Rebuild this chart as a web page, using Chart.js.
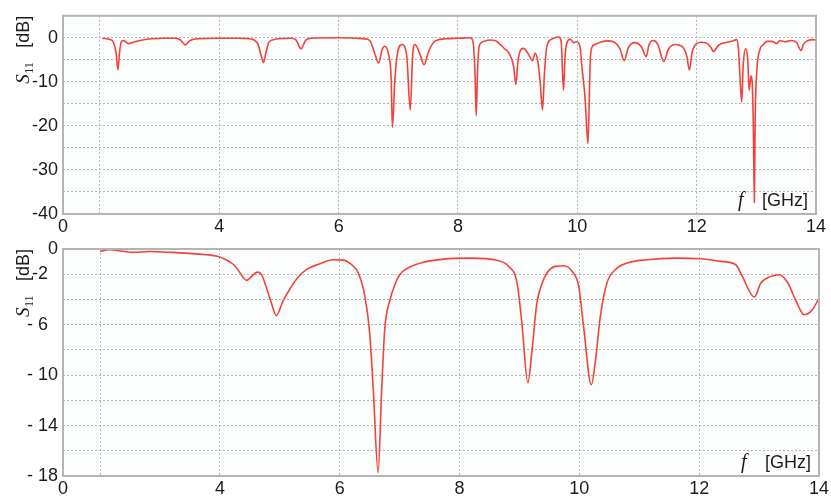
<!DOCTYPE html>
<html>
<head>
<meta charset="utf-8">
<script src="https://cdn.jsdelivr.net/npm/chart.js@4.4.1/dist/chart.umd.min.js"></script>
<style>
  html, body { margin: 0; padding: 0; background: #ffffff; }
  #wrap { position: relative; width: 831px; height: 501px; }
  canvas { position: absolute; left: 0; top: 0; }
</style>
</head>
<body>
<div id="wrap">
  <canvas id="top" width="831" height="501"></canvas>
  <canvas id="bottom" width="831" height="501"></canvas>
</div>
<script>
// ---------- DATA ----------
// Upper panel: measured S11 [dB] vs frequency [GHz]
const topFreq = [2.04,2.17,2.22,2.27,2.30,2.33,2.36,2.39,2.43,2.48,2.56,2.64,2.76,2.88,3.05,3.26,3.35,3.43,3.51,3.68,4.02,4.3,4.5,4.58,4.65,4.70,4.74,4.78,4.83,4.92,5.0,5.2,5.28,5.37,5.45,5.55,6.0,6.3,6.47,6.53,6.61,6.67,6.73,6.77,6.84,6.88,6.90,6.94,6.98,7.06,7.14,7.20,7.24,7.28,7.37,7.43,7.51,7.62,7.79,8.0,8.2,8.233,8.26,8.288,8.305,8.327,8.355,8.40,8.456,8.54,8.623,8.707,8.79,8.846,8.93,8.97,9.003,9.042,9.097,9.18,9.248,9.293,9.33,9.377,9.416,9.45,9.49,9.573,9.684,9.729,9.767,9.796,9.834,9.88,9.935,9.99,10.047,10.075,10.13,10.177,10.198,10.215,10.243,10.298,10.382,10.52,10.633,10.717,10.784,10.856,10.968,11.08,11.153,11.203,11.275,11.349,11.449,11.526,11.638,11.75,11.834,11.878,11.928,12.0,12.07,12.15,12.233,12.28,12.364,12.476,12.588,12.672,12.70,12.725,12.755,12.78,12.82,12.855,12.88,12.91,12.93,12.95,12.967,12.98,13.007,13.062,13.12,13.175,13.26,13.34,13.396,13.48,13.59,13.677,13.75,13.788,13.87,13.955,14.0];
const topS11 = [-0.1,-0.4,-0.9,-3.5,-7.3,-3.0,-0.8,-0.6,-0.9,-1.3,-1.0,-0.7,-0.4,-0.2,-0.1,-0.1,-0.5,-1.6,-0.6,-0.2,-0.1,-0.1,-0.2,-0.5,-1.5,-4.0,-5.6,-3.5,-1.0,-0.4,-0.2,-0.1,-0.4,-2.5,-0.5,-0.1,0.0,-0.1,-0.3,-0.8,-3.8,-5.7,-2.6,-1.9,-4.0,-9.3,-20.3,-10.0,-4.0,-1.5,-4.0,-16.4,-4.0,-1.5,-4.0,-6.1,-3.0,-0.7,-0.2,-0.1,0.0,-0.2,-1.8,-9.3,-17.7,-7.8,-1.9,-1.0,-0.7,-0.5,-0.6,-1.5,-2.6,-3.3,-6.3,-10.6,-5.6,-3.0,-2.4,-3.7,-5.2,-3.5,-4.8,-10.0,-16.4,-7.8,-1.9,-0.3,0.2,-0.8,-11.9,-4.0,-0.8,-0.3,-1.1,-0.9,-2.2,-6.3,-13.8,-24.0,-15.2,-5.6,-2.2,-1.5,-1.0,-0.7,-1.1,-2.6,-5.2,-2.2,-1.1,-2.2,-4.3,-1.5,-0.6,-1.5,-5.4,-2.6,-1.5,-1.9,-4.1,-7.3,-3.0,-1.3,-1.0,-1.1,-2.0,-3.1,-1.7,-1.1,-0.8,-0.4,-2.6,-8.6,-14.6,-6.3,-2.5,-4.8,-11.9,-8.6,-10.0,-20.4,-37.4,-18.8,-7.8,-2.6,-1.5,-0.8,-0.8,-1.3,-0.6,-0.9,-0.6,-1.1,-2.9,-1.5,-0.6,-0.4,-0.6];

// Lower panel: simulated S11 [dB] vs frequency [GHz]
const botFreq = [2.0,2.15,2.54,2.82,3.2,3.54,3.77,3.96,4.10,4.21,4.30,4.38,4.44,4.52,4.62,4.69,4.77,4.86,4.94,5.05,5.16,5.28,5.44,5.67,5.89,6.06,6.20,6.31,6.42,6.50,6.56,6.64,6.70,6.75,6.84,6.92,7.00,7.17,7.39,7.73,8.18,8.62,8.82,8.96,9.04,9.14,9.21,9.29,9.38,9.46,9.60,9.74,9.88,9.99,10.07,10.20,10.27,10.35,10.46,10.60,10.80,11.13,11.58,12.03,12.36,12.61,12.72,12.92,13.03,13.20,13.34,13.48,13.62,13.75,13.89,14.0];
const botS11 = [-0.19,-0.05,-0.27,-0.2,-0.27,-0.37,-0.45,-0.58,-0.85,-1.17,-1.64,-2.2,-2.49,-2.22,-1.83,-1.99,-2.97,-4.3,-5.29,-4.16,-3.23,-2.38,-1.64,-1.17,-0.85,-0.88,-1.25,-1.9,-3.76,-6.67,-11.17,-17.73,-11.17,-6.4,-4.02,-2.83,-2.04,-1.43,-1.06,-0.8,-0.72,-0.9,-1.38,-2.7,-5.87,-10.6,-8.0,-4.3,-2.7,-1.9,-1.38,-1.33,-1.78,-2.97,-6.14,-10.77,-8.79,-5.35,-2.7,-1.64,-1.11,-0.85,-0.72,-0.77,-0.98,-1.25,-2.17,-3.81,-2.7,-2.17,-2.04,-2.7,-4.16,-5.21,-4.82,-3.89];

// Axis ticks (the left edge of the frequency axis is labelled "0")
const xMin = 1.38, xMax = 14;
const xTickValues = [xMin, 2, 4, 6, 8, 10, 12, 14];
const xTickLabels = ['0', '', '4', '6', '8', '10', '12', '14'];
const topYTickValues = [-40,-35,-30,-25,-20,-15,-10,-5,0,5];
const topYTickLabels = ['-40','','-30','','-20','','-10','','0',''];
const botYTickValues = [-18,-16,-14,-12,-10,-8,-6,-4,-2,0];
const botYTickLabels = ['- 18','','- 14','','- 10','','- 6\u2007','','-2\u2007','0'];

// ---------- STYLE ----------
const LINE = '#f1433b';
const GRID = '#b2b2b2';
const FRAME = '#b4b4b4';
const TEXT = '#1c1c1c';
const SANS = '"Liberation Sans", Arial, sans-serif';
const SERIF = '"Liberation Serif", "Times New Roman", serif';

function decorPlugin() {
  return {
    id: 'decor',
    beforeDraw(chart) {
      const a = chart.chartArea, ctx = chart.ctx;
      ctx.save();
      ctx.fillStyle = '#fcfdfd';
      ctx.fillRect(a.left, a.top, a.right - a.left, a.bottom - a.top);
      ctx.restore();
    },
    afterDraw(chart) {
      const a = chart.chartArea, ctx = chart.ctx;
      ctx.save();
      // frame
      ctx.strokeStyle = FRAME;
      ctx.lineWidth = 2;
      ctx.strokeRect(a.left, a.top, a.right - a.left, a.bottom - a.top);
      // y axis title: S11 [dB]
      ctx.fillStyle = TEXT;
      ctx.translate(29, a.top + 68);
      ctx.rotate(-Math.PI / 2);
      ctx.textBaseline = 'alphabetic';
      ctx.textAlign = 'left';
      ctx.font = 'italic 19px ' + SERIF;
      ctx.fillText('S', 0, 0);
      const w = ctx.measureText('S').width;
      ctx.font = '12px ' + SERIF;
      ctx.fillText('11', w + 0.5, 4);
      ctx.font = '18px ' + SANS;
      ctx.fillText('[dB]', 36, 0);
      ctx.restore();
      // x axis title inside plot: f [GHz]
      ctx.save();
      ctx.fillStyle = TEXT;
      ctx.textBaseline = 'alphabetic';
      ctx.font = 'italic 20px ' + SERIF;
      ctx.textAlign = 'left';
      ctx.fillText('f', a.right - 78, a.bottom - 8);
      ctx.font = '18px ' + SANS;
      ctx.textAlign = 'right';
      ctx.fillText('[GHz]', a.right - 8, a.bottom - 8);
      ctx.restore();
    }
  };
}

function makeChart(id, freq, vals, yMin, yMax, yVals, yLabels, padding, xHeight) {
  return new Chart(document.getElementById(id), {
    type: 'line',
    data: {
      datasets: [{
        data: freq.map((f, i) => ({ x: f, y: vals[i] })),
        borderColor: LINE,
        borderWidth: 1.6,
        pointRadius: 0,
        cubicInterpolationMode: 'monotone',
        fill: false
      }]
    },
    options: {
      responsive: false,
      animation: false,
      devicePixelRatio: 1,
      layout: { padding: padding },
      plugins: { legend: { display: false }, tooltip: { enabled: false } },
      scales: {
        x: {
          type: 'linear',
          min: xMin, max: xMax,
          afterBuildTicks: s => { s.ticks = xTickValues.map(v => ({ value: v })); },
          afterFit: s => { s.height = xHeight; },
          ticks: {
            callback: (v, i) => xTickLabels[i],
            autoSkip: false, maxRotation: 0, minRotation: 0,
            color: TEXT, font: { family: SANS, size: 18 }, padding: 2
          },
          grid: { color: GRID, lineWidth: 1, drawTicks: false },
          border: { display: false, dash: [2, 2] }
        },
        y: {
          type: 'linear',
          min: yMin, max: yMax,
          afterBuildTicks: s => { s.ticks = yVals.map(v => ({ value: v })); },
          afterFit: s => { s.width = 63; },
          ticks: {
            callback: (v, i) => yLabels[i],
            autoSkip: false,
            color: TEXT, font: { family: SANS, size: 18 }, padding: 5
          },
          grid: { color: GRID, lineWidth: 1, drawTicks: false },
          border: { display: false, dash: [2, 2] }
        }
      }
    },
    plugins: [decorPlugin()]
  });
}

makeChart('top', topFreq, topS11, -40, 5, topYTickValues, topYTickLabels,
  { top: 13, right: 15, bottom: 261, left: 0 }, 26);
makeChart('bottom', botFreq, botS11, -18, 0, botYTickValues, botYTickLabels,
  { top: 249, right: 11, bottom: 0, left: 0 }, 25);
</script>
</body>
</html>
